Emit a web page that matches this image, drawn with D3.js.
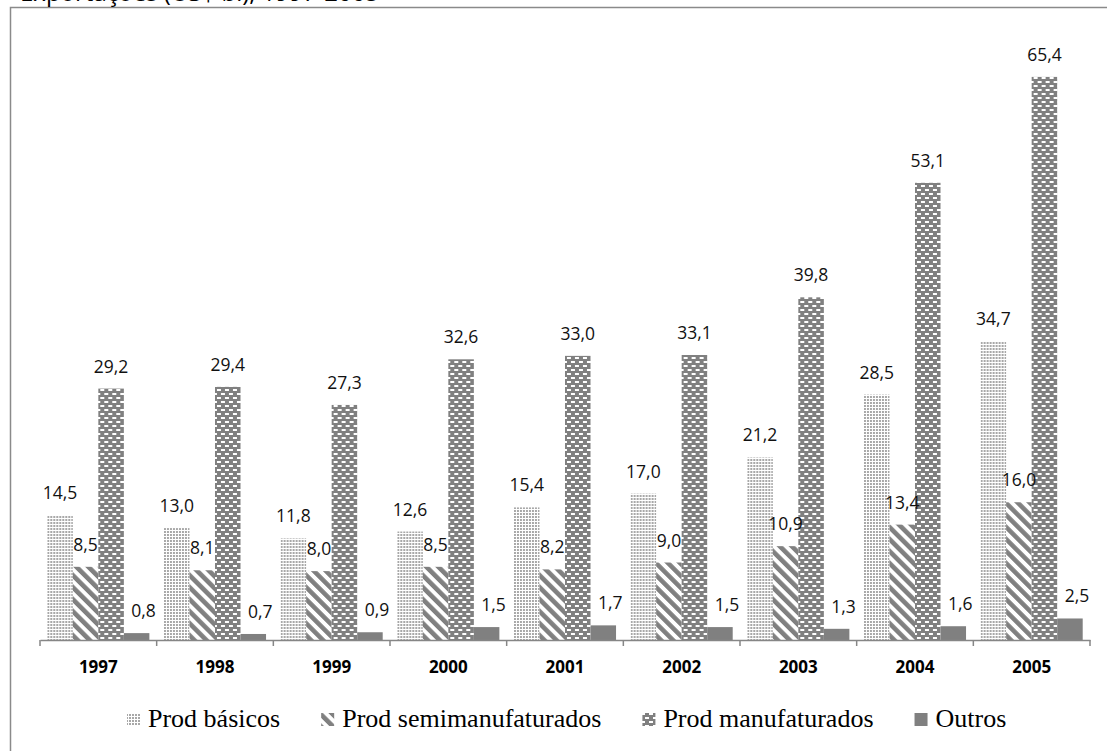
<!DOCTYPE html>
<html>
<head>
<meta charset="utf-8">
<script src="https://cdn.jsdelivr.net/npm/d3@7"></script>
<style>
  html, body { margin: 0; padding: 0; background: #fff; }
  svg { display: block; }
</style>
</head>
<body>
<svg id="chart" width="1107" height="751"></svg>
<script>
const titleText = "Exportações (US$ bi), 1997-2005";
const years = ["1997","1998","1999","2000","2001","2002","2003","2004","2005"];
const seriesNames = ["Prod básicos","Prod semimanufaturados","Prod manufaturados","Outros"];
const basicos = [14.5, 13.0, 11.8, 12.6, 15.4, 17.0, 21.2, 28.5, 34.7];
const semimanufaturados = [8.5, 8.1, 8.0, 8.5, 8.2, 9.0, 10.9, 13.4, 16.0];
const manufaturados = [29.2, 29.4, 27.3, 32.6, 33.0, 33.1, 39.8, 53.1, 65.4];
const outros = [0.8, 0.7, 0.9, 1.5, 1.7, 1.5, 1.3, 1.6, 2.5];
const seriesValues = [basicos, semimanufaturados, manufaturados, outros];

const svg = d3.select("#chart");
const defs = svg.append("defs");
const gray = "#808080";

// Pattern: Prod básicos (fine dots)
const p0 = defs.append("pattern").attr("id","pat0").attr("patternUnits","userSpaceOnUse")
  .attr("width",3).attr("height",3);
p0.append("rect").attr("width",3).attr("height",3).attr("fill","#fff");
p0.append("rect").attr("x",0).attr("y",0).attr("width",2).attr("height",2).attr("fill","#a8a8a8");

// Pattern: semimanufaturados (wide downward diagonal)
const p1 = defs.append("pattern").attr("id","pat1").attr("patternUnits","userSpaceOnUse")
  .attr("width",8.5).attr("height",8.5).attr("patternTransform","rotate(-45)");
p1.append("rect").attr("width",8.5).attr("height",8.5).attr("fill","#fff");
p1.append("rect").attr("x",0).attr("y",0).attr("width",4.6).attr("height",8.5).attr("fill",gray);

// Pattern: manufaturados (gray with white dashes)
const p2 = defs.append("pattern").attr("id","pat2").attr("patternUnits","userSpaceOnUse")
  .attr("width",8).attr("height",8);
p2.append("rect").attr("width",8).attr("height",8).attr("fill",gray);
p2.append("rect").attr("x",1).attr("y",1).attr("width",4).attr("height",2).attr("fill","#fff");
p2.append("rect").attr("x",5).attr("y",5).attr("width",4).attr("height",2).attr("fill","#fff");
p2.append("rect").attr("x",-3).attr("y",5).attr("width",4).attr("height",2).attr("fill","#fff");

const fills = ["url(#pat0)","url(#pat1)","url(#pat2)", gray];

// Frame
svg.append("rect").attr("x",10.5).attr("y",7.5).attr("width",1110).attr("height",760)
  .attr("fill","none").attr("stroke","#8a8a8a").attr("stroke-width",1.5);

// Title (cut off at top, as in the reference)
svg.append("text").attr("x",20).attr("y",1).attr("font-family","Open Sans, sans-serif")
  .attr("font-size",24).attr("fill","#000").text(titleText);

// Scales
const x = d3.scaleBand().domain(years).range([40, 1090]).paddingInner(0.125).paddingOuter(0.0625);
const xs = d3.scaleBand().domain(d3.range(4)).range([0, x.bandwidth()]).padding(0);
const y = d3.scaleLinear().domain([0, 70]).range([640, 37.3]);

// Bars
const groups = svg.append("g").selectAll("g").data(years).join("g")
  .attr("transform", d => `translate(${x(d)},0)`);

groups.each(function(year, i) {
  const g = d3.select(this);
  seriesValues.forEach((vals, s) => {
    const v = vals[i];
    g.append("rect")
      .attr("x", xs(s)).attr("width", xs.bandwidth())
      .attr("y", y(v)).attr("height", y(0) - y(v))
      .attr("fill", fills[s]);
  });
});

// Labels
const labelDx = [0, 0, 0, 7];
groups.each(function(year, i) {
  const g = d3.select(this);
  seriesValues.forEach((vals, s) => {
    const v = vals[i];
    g.append("text")
      .attr("x", xs(s) + xs.bandwidth()/2 + labelDx[s])
      .attr("y", y(v) - 16)
      .attr("text-anchor","middle")
      .attr("font-family","Open Sans, sans-serif")
      .attr("font-size",17.5)
      .attr("fill","#111")
      .text(v.toFixed(1).replace(".", ","));
  });
});

// Axis
const axis = svg.append("g").attr("transform", `translate(0,${y(0)})`)
  .call(d3.axisBottom(x).tickSize(0).tickPadding(0));
axis.select(".domain").attr("stroke","#868686").attr("stroke-width",1.5);
axis.selectAll(".tick text")
  .attr("font-family","Open Sans, sans-serif")
  .attr("font-size",17).attr("font-weight","bold").attr("fill","#000")
  .attr("dy",0).attr("y",33);

// Boundary ticks (between categories)
const bounds = d3.range(years.length + 1).map(k => x.range()[0] + k * x.step());
svg.append("g").selectAll("line").data(bounds).join("line")
  .attr("x1", d => d).attr("x2", d => d)
  .attr("y1", y(0)).attr("y2", y(0) + 6)
  .attr("stroke","#868686").attr("stroke-width",1.5);

// Legend
const legend = svg.append("g");
let lx = 127;
seriesNames.forEach((name, s) => {
  const it = legend.append("g");
  it.append("rect").attr("x", lx).attr("y", 713).attr("width", 13).attr("height", 13)
    .attr("fill", fills[s]);
  const t = it.append("text").attr("x", lx + 21).attr("y", 727)
    .attr("font-family","Liberation Serif, Times New Roman, serif")
    .attr("font-size",26).attr("fill","#000").text(name);
  lx = lx + 21 + t.node().getComputedTextLength() + 41;
});
</script>
</body>
</html>
